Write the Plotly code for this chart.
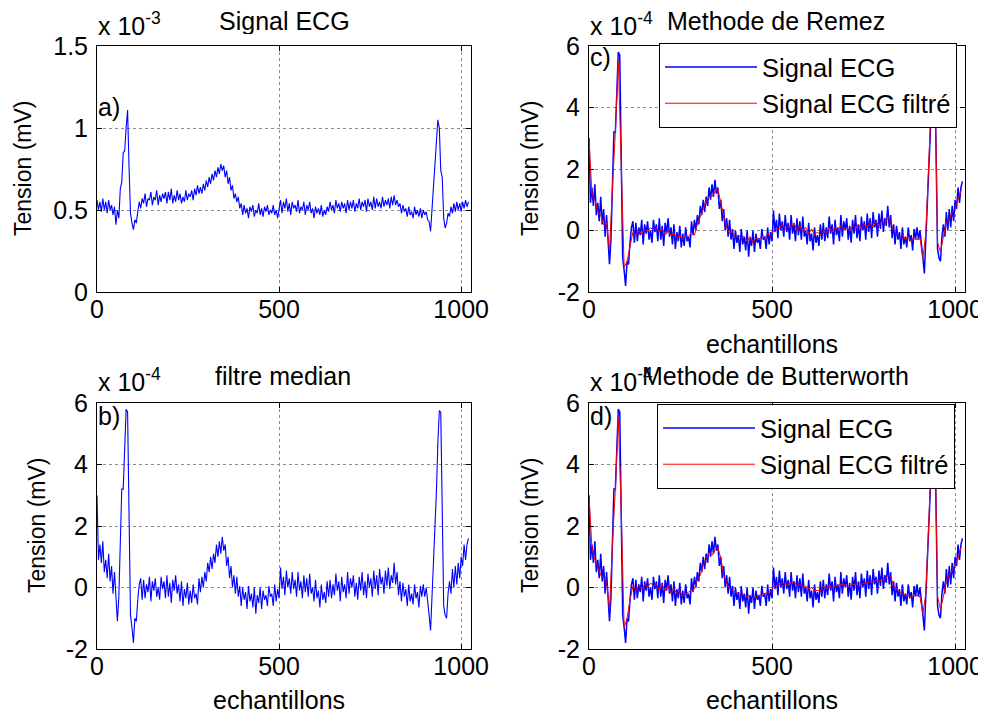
import plotly.graph_objects as go

# ---------------- data ----------------
# sample index of the noisy signals (every 4th sample) and of the filtered ones (every 8th)
samples_raw = list(range(0, 1024, 4))
samples_filt = list(range(0, 1024, 8))

# a) raw ECG, units of 1e-3 mV
ecg_raw = [
    0.56, 0.50, 0.55, 0.49, 0.57, 0.50, 0.55, 0.48,
    0.56, 0.50, 0.53, 0.47, 0.52, 0.41, 0.50, 0.45,
    0.63, 0.67, 0.85, 0.86, 1.00, 1.11, 0.76, 0.48,
    0.42, 0.38, 0.44, 0.42, 0.49, 0.55, 0.51, 0.57,
    0.54, 0.60, 0.52, 0.57, 0.56, 0.61, 0.53, 0.58,
    0.56, 0.62, 0.53, 0.59, 0.55, 0.60, 0.57, 0.61,
    0.54, 0.61, 0.56, 0.63, 0.54, 0.59, 0.55, 0.62,
    0.56, 0.60, 0.54, 0.58, 0.55, 0.62, 0.56, 0.60,
    0.58, 0.62, 0.56, 0.63, 0.59, 0.65, 0.60, 0.64,
    0.60, 0.66, 0.62, 0.68, 0.64, 0.70, 0.66, 0.72,
    0.68, 0.74, 0.70, 0.76, 0.72, 0.78, 0.74, 0.77,
    0.70, 0.74, 0.66, 0.70, 0.62, 0.65, 0.57, 0.60,
    0.55, 0.58, 0.51, 0.54, 0.47, 0.53, 0.48, 0.51,
    0.45, 0.52, 0.49, 0.53, 0.46, 0.50, 0.48, 0.54,
    0.47, 0.51, 0.46, 0.52, 0.49, 0.53, 0.47, 0.50,
    0.48, 0.53, 0.47, 0.50, 0.45, 0.51, 0.56, 0.48,
    0.55, 0.51, 0.57, 0.49, 0.54, 0.47, 0.55, 0.51,
    0.53, 0.49, 0.56, 0.48, 0.52, 0.50, 0.55, 0.47,
    0.53, 0.50, 0.55, 0.48, 0.51, 0.45, 0.52, 0.48,
    0.51, 0.47, 0.53, 0.46, 0.50, 0.47, 0.52, 0.49,
    0.55, 0.50, 0.53, 0.48, 0.56, 0.51, 0.54, 0.49,
    0.55, 0.51, 0.54, 0.48, 0.56, 0.50, 0.55, 0.51,
    0.56, 0.49, 0.54, 0.51, 0.57, 0.50, 0.55, 0.52,
    0.56, 0.49, 0.57, 0.52, 0.55, 0.50, 0.58, 0.51,
    0.57, 0.52, 0.55, 0.51, 0.58, 0.52, 0.56, 0.53,
    0.57, 0.51, 0.58, 0.53, 0.59, 0.53, 0.56, 0.52,
    0.54, 0.48, 0.53, 0.49, 0.51, 0.46, 0.52, 0.47,
    0.49, 0.45, 0.52, 0.47, 0.50, 0.46, 0.51, 0.45,
    0.50, 0.47, 0.49, 0.44, 0.43, 0.37, 0.50, 0.64,
    0.78, 0.95, 1.05, 1.00, 0.74, 0.70, 0.45, 0.39,
    0.42, 0.48, 0.46, 0.52, 0.48, 0.54, 0.49, 0.55,
    0.50, 0.54, 0.49, 0.55, 0.51, 0.56, 0.52, 0.55,
]

# b) after median filter (baseline removed), units of 1e-4 mV; also the blue curve of c) and d)
ecg_median = [
    3.0, 0.9, 1.4, 0.8, 1.5, 0.5, 0.9, 0.3,
    1.1, 0.2, 0.7, -0.2, 0.5, -0.3, -1.1, -0.3,
    1.5, 3.2, 3.2, 4.6, 5.8, 5.7, 2.1, -0.9,
    -1.3, -1.8, -1.0, -1.1, -0.4, 0.1, 0.3, -0.4,
    0.25, -0.35, 0.1, -0.15, 0.35, -0.45, 0.2, -0.1,
    0.3, -0.3, 0.0, -0.4, 0.35, -0.05, 0.2, -0.35,
    0.4, -0.3, 0.15, -0.5, 0.25, -0.1, 0.4, -0.2,
    0.1, -0.45, 0.2, -0.6, -0.05, -0.35, 0.15, -0.55,
    -0.1, -0.5, 0.1, -0.35, -0.2, -0.55, 0.3, -0.15,
    0.35, 0.0, 0.5, 0.2, 0.8, 0.5, 1.0, 0.6,
    1.1, 0.8, 1.4, 1.0, 1.5, 1.1, 1.65, 1.2,
    1.4, 0.7, 1.0, 0.3, 0.7, 0.0, 0.4, -0.2,
    0.35, -0.3, 0.05, -0.6, 0.0, -0.4, -0.15, -0.7,
    0.05, -0.45, -0.2, -0.65, 0.0, -0.85, -0.25, -0.5,
    0.0, -0.7, -0.1, -0.4, -0.25, -0.6, 0.05, -0.3,
    -0.2, -0.6, 0.1, -0.45, -0.05, -0.35, 0.65, -0.05,
    0.35, -0.25, 0.55, 0.0, 0.3, -0.2, 0.5, -0.05,
    0.25, -0.3, 0.5, -0.1, 0.2, -0.35, 0.4, -0.15,
    0.3, -0.3, 0.45, -0.2, 0.0, -0.45, 0.25, -0.35,
    -0.1, -0.65, 0.1, -0.4, -0.15, -0.5, 0.2, -0.3,
    0.25, -0.35, 0.1, -0.25, 0.45, -0.1, 0.2, -0.45,
    0.35, -0.15, 0.1, -0.35, 0.5, -0.2, 0.3, 0.0,
    0.4, -0.3, 0.15, -0.4, 0.35, -0.1, 0.5, -0.25,
    0.2, -0.35, 0.45, 0.0, 0.3, -0.3, 0.55, -0.05,
    0.4, -0.25, 0.6, 0.1, 0.35, -0.2, 0.55, 0.05,
    0.65, -0.05, 0.4, 0.15, 0.8, 0.1, 0.5, -0.25,
    0.2, -0.45, 0.15, -0.3, -0.05, -0.6, 0.1, -0.45,
    -0.2, -0.55, 0.1, -0.35, -0.15, -0.65, 0.05, -0.3,
    0.1, -0.3, 0.0, -0.6, -0.9, -1.4, -0.3, 1.2,
    2.0, 3.1, 4.7, 5.75, 5.7, 2.1, -0.6, -0.9,
    -1.0, -0.2, 0.2, -0.2, 0.6, 0.0, 0.7, 0.1,
    0.8, 0.3, 1.0, 0.7, 1.4, 0.9, 1.4, 1.6,
]

# c) Remez filtered, units of 1e-4 mV
ecg_remez = [
    3.0, 1.2, 1.0, 0.6, 0.5, 0.2, 0.25, -0.65,
    1.4, 3.2, 5.5, 2.5, -1.2, -1.0, -0.5, -0.05,
    -0.15, 0.0, -0.1, 0.05, -0.05, 0.1, 0.0, 0.1,
    -0.05, 0.05, -0.15, 0.0, -0.15, -0.1, -0.25, -0.15,
    -0.3, -0.15, -0.2, -0.05, -0.15, 0.2, 0.45, 0.7,
    0.95, 1.1, 1.1, 1.25, 1.35, 0.9, 0.45, 0.1,
    -0.1, -0.05, -0.2, -0.15, -0.25, -0.2, -0.35, -0.2,
    -0.4, -0.25, -0.3, -0.2, -0.25, -0.1, -0.2, 0.0,
    0.1, 0.05, 0.2, 0.05, 0.15, 0.1, 0.25, 0.0,
    0.15, -0.05, 0.1, -0.1, 0.05, -0.15, -0.05, -0.15,
    0.0, -0.1, 0.1, -0.05, 0.1, 0.0, 0.15, 0.05,
    0.1, 0.0, 0.15, 0.05, 0.2, 0.05, 0.2, 0.1,
    0.25, 0.1, 0.3, 0.15, 0.3, 0.2, 0.45, 0.3,
    0.0, -0.1, -0.2, -0.15, -0.3, -0.2, -0.35, -0.2,
    -0.3, -0.25, -0.9, -0.1, 2.0, 4.5, 5.6, -0.4,
    -0.7, -0.2, 0.3, 0.35, 0.6, 0.7, 1.0, 1.3,
]

# d) Butterworth filtered, units of 1e-4 mV
ecg_butter = [
    3.0, 1.3, 0.9, 0.7, 0.4, 0.3, 0.15, -0.7,
    1.4, 3.2, 5.5, 2.5, -1.3, -1.0, -0.4, 0.05,
    -0.1, 0.05, -0.05, 0.1, 0.0, 0.15, 0.05, 0.1,
    -0.1, 0.1, -0.1, 0.05, -0.2, -0.05, -0.2, -0.1,
    -0.3, -0.2, -0.15, -0.1, -0.05, 0.25, 0.4, 0.75,
    0.9, 1.15, 1.05, 1.2, 1.3, 0.95, 0.4, 0.15,
    -0.05, -0.1, -0.15, -0.2, -0.2, -0.25, -0.3, -0.25,
    -0.35, -0.3, -0.25, -0.25, -0.2, -0.15, -0.15, 0.05,
    0.05, 0.1, 0.15, 0.1, 0.1, 0.15, 0.2, 0.05,
    0.1, 0.0, 0.05, -0.05, 0.0, -0.1, -0.1, -0.1,
    0.05, -0.05, 0.05, 0.0, 0.05, 0.05, 0.1, 0.1,
    0.05, 0.05, 0.1, 0.1, 0.15, 0.1, 0.15, 0.15,
    0.2, 0.15, 0.25, 0.2, 0.25, 0.25, 0.4, 0.35,
    0.05, -0.05, -0.15, -0.2, -0.25, -0.25, -0.3, -0.25,
    -0.25, -0.3, -0.85, -0.2, 1.9, 4.4, 5.6, -0.3,
    -0.7, -0.3, 0.25, 0.4, 0.55, 0.75, 0.95, 1.3,
]

x_ticks = [0, 500, 1000]
x_ticktext = ["0", "500", "1000"]
ya_ticks = [0, 0.5, 1, 1.5]
ya_ticktext = ["0", "0.5", "1", "1.5"]
yb_ticks = [-2, 0, 2, 4, 6]
yb_ticktext = ["-2", "0", "2", "4", "6"]

# ---------------- figure ----------------
# the page puts the figure 8 px in from the top-left corner, so the figure is 8 px
# smaller and every position below is given in window pixels minus that offset
OFF = 8
W, H = 986 - OFF, 715 - OFF
FONT = "Liberation Sans, Arial, sans-serif"
BLUE = "rgb(0,0,255)"
RED = "rgb(255,0,0)"


def px(x):
    return (x - OFF) / W


def py(y):
    return 1 - (y - OFF) / H


fig = go.Figure()
fig.add_trace(go.Scatter(x=samples_raw, y=ecg_raw, mode="lines", line=dict(color=BLUE, width=1.1),
                         xaxis="x", yaxis="y", showlegend=False))
fig.add_trace(go.Scatter(x=samples_raw, y=ecg_median, mode="lines", line=dict(color=BLUE, width=1.1),
                         xaxis="x3", yaxis="y3", showlegend=False))
fig.add_trace(go.Scatter(x=samples_raw, y=ecg_median, mode="lines", line=dict(color=BLUE, width=1.5),
                         xaxis="x2", yaxis="y2", name="Signal ECG", legend="legend"))
fig.add_trace(go.Scatter(x=samples_filt, y=ecg_remez, mode="lines", line=dict(color=RED, width=1),
                         xaxis="x2", yaxis="y2", name="Signal ECG filtré", legend="legend"))
fig.add_trace(go.Scatter(x=samples_raw, y=ecg_median, mode="lines", line=dict(color=BLUE, width=1.5),
                         xaxis="x4", yaxis="y4", name="Signal ECG", legend="legend2"))
fig.add_trace(go.Scatter(x=samples_filt, y=ecg_butter, mode="lines", line=dict(color=RED, width=1),
                         xaxis="x4", yaxis="y4", name="Signal ECG filtré", legend="legend2"))


def xaxis(domain, anchor):
    return dict(domain=domain, anchor=anchor, range=[0, 1027], tickvals=x_ticks, ticktext=x_ticktext,
                showline=True, linecolor="black", linewidth=1, mirror="ticks", ticks="inside",
                ticklen=5, tickcolor="black", showgrid=True, gridcolor="#8c8c8c", griddash="dot",
                gridwidth=1, zeroline=False, tickfont=dict(family=FONT, size=25, color="black"),
                ticklabelstandoff=-5, automargin=False, fixedrange=True)


def yaxis(domain, anchor, rng, tv, tt):
    return dict(domain=domain, anchor=anchor, range=rng, tickvals=tv, ticktext=tt,
                showline=True, linecolor="black", linewidth=1, mirror="ticks", ticks="inside",
                ticklen=5, tickcolor="black", showgrid=True, gridcolor="#8c8c8c", griddash="dot",
                gridwidth=1, zeroline=False, tickfont=dict(family=FONT, size=25, color="black"),
                ticklabelstandoff=3, automargin=False, fixedrange=True)


top = [py(292), py(46)]
bot = [py(649), py(403)]
left = [px(97), px(471)]
right = [px(589), px(965)]

annotations = []


def txt(x, y, t, size=25, xanchor="center", yanchor="middle", angle=0, height=None):
    a = dict(x=px(x), y=py(y), xref="paper", yref="paper", text=t, showarrow=False,
             xanchor=xanchor, yanchor=yanchor, textangle=angle, borderpad=0,
             font=dict(family=FONT, size=size, color="black"))
    if height is not None:
        a["height"] = height
    annotations.append(a)


# titles
txt(284, 21, "Signal ECG", height=26)
txt(776, 21, "Methode de Remez", height=26)
txt(283, 376, "filtre median", height=26)
txt(775, 376, "Methode de Butterworth", height=26)
# exponents
txt(97, 40, "x 10<sup>-3</sup>", xanchor="left", yanchor="bottom", height=30)
txt(589, 40, "x 10<sup>-4</sup>", xanchor="left", yanchor="bottom", height=30)
txt(97, 396, "x 10<sup>-4</sup>", xanchor="left", yanchor="bottom", height=30)
txt(589, 396, "x 10<sup>-4</sup>", xanchor="left", yanchor="bottom", height=30)
# x labels
txt(772, 344, "echantillons")
txt(279, 700, "echantillons")
txt(772, 700, "echantillons")
# y labels
txt(23, 169, "Tension (mV)", size=23, angle=-90)
txt(530, 169, "Tension (mV)", size=23, angle=-90)
txt(37, 526, "Tension (mV)", size=23, angle=-90)
txt(530, 526, "Tension (mV)", size=23, angle=-90)
# panel letters
txt(97, 107, "a)", xanchor="left")
txt(589, 57, "c)", xanchor="left")
txt(97, 416, "b)", xanchor="left")
txt(589, 416, "d)", xanchor="left")

legend_style = dict(bgcolor="white", bordercolor="black", borderwidth=1,
                    font=dict(family=FONT, size=25.5, color="black"), itemwidth=92,
                    xanchor="left", yanchor="top", traceorder="normal")

fig.update_layout(
    template="none",
    width=W, height=H, margin=dict(l=0, r=0, t=0, b=0, autoexpand=False),
    paper_bgcolor="white", plot_bgcolor="white",
    xaxis=xaxis(left, "y"), yaxis=yaxis(top, "x", [0, 1.5], ya_ticks, ya_ticktext),
    xaxis2=xaxis(right, "y2"), yaxis2=yaxis(top, "x2", [-2, 6], yb_ticks, yb_ticktext),
    xaxis3=xaxis(left, "y3"), yaxis3=yaxis(bot, "x3", [-2, 6], yb_ticks, yb_ticktext),
    xaxis4=xaxis(right, "y4"), yaxis4=yaxis(bot, "x4", [-2, 6], yb_ticks, yb_ticktext),
    legend=dict(x=px(659), y=py(43), **legend_style),
    legend2=dict(x=px(657), y=py(404), **legend_style),
    annotations=annotations,
    showlegend=True,
)

fig.write_html("out.html")
